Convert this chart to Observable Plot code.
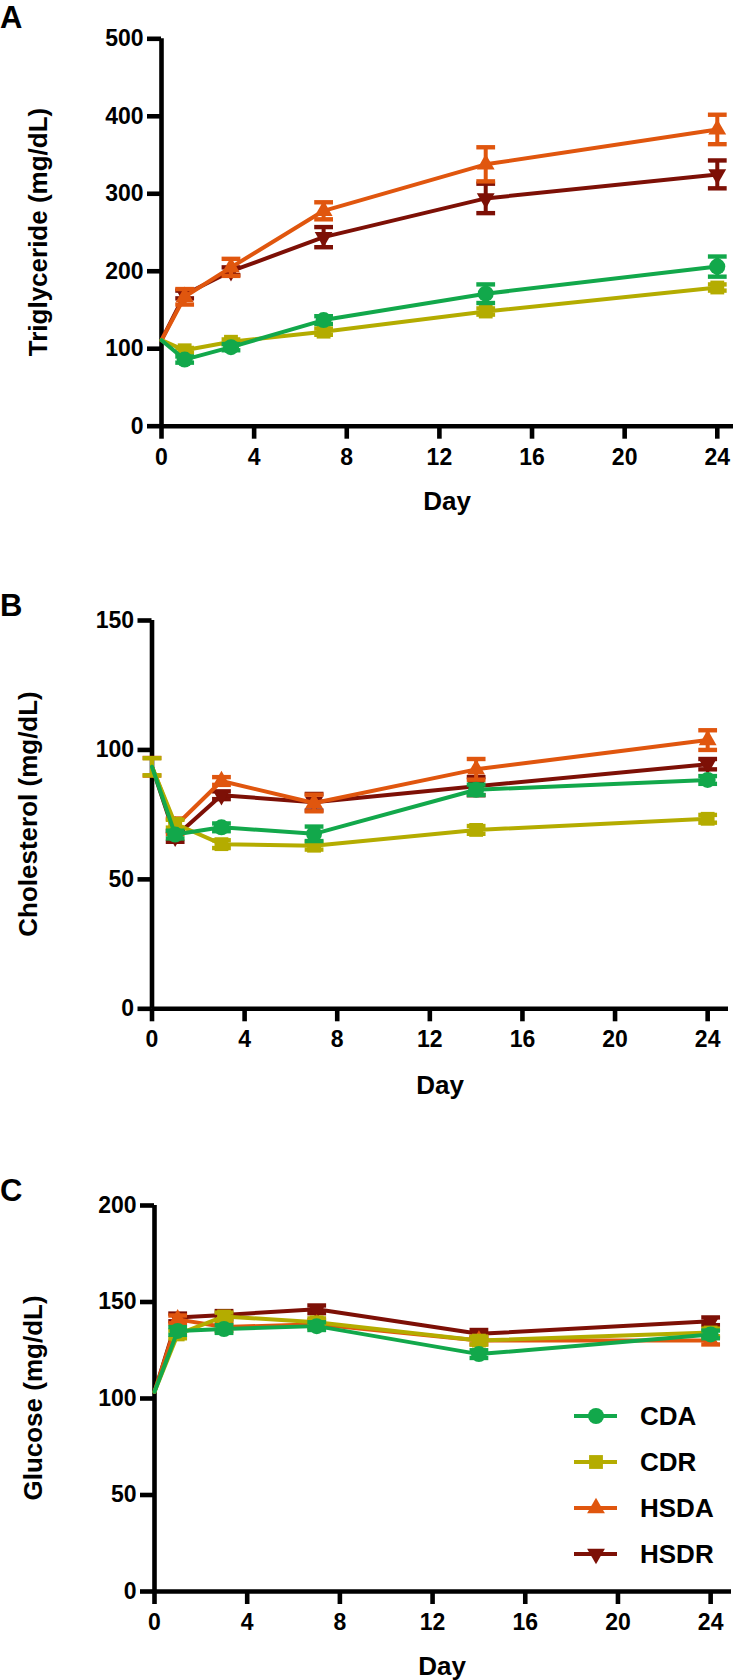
<!DOCTYPE html>
<html>
<head>
<meta charset="utf-8">
<script src="https://cdn.jsdelivr.net/npm/d3@7"></script>
<script src="https://cdn.jsdelivr.net/npm/@observablehq/plot@0.6"></script>
<style>
  body { margin: 0; background: #fff; }
  #root { position: relative; width: 741px; height: 1680px; overflow: hidden;
          font-family: "Liberation Sans", Arial, sans-serif; font-weight: bold; color: #000; }
  .panel { position: absolute; left: 0; }
  .letter { position: absolute; font-size: 31px; line-height: 1; }
  .xt { position: absolute; font-size: 26px; line-height: 1; transform: translateX(-50%); white-space: nowrap; }
  .yt { position: absolute; font-size: 26px; line-height: 1; transform: translate(-50%, -50%) rotate(-90deg); white-space: nowrap; }
</style>
</head>
<body>
<div id="root">
  <div class="letter" style="left:0px;top:2px">A</div>
  <div class="letter" style="left:0px;top:590px">B</div>
  <div class="letter" style="left:0px;top:1175px">C</div>
  <div id="pA" class="panel" style="top:0px"></div>
  <div id="pB" class="panel" style="top:560px"></div>
  <div id="pC" class="panel" style="top:1150px"></div>
  <div class="xt" style="left:447px;top:488px">Day</div>
  <div class="xt" style="left:440px;top:1072px">Day</div>
  <div class="xt" style="left:442px;top:1653px">Day</div>
  <div class="yt" style="left:38px;top:232px">Triglyceride (mg/dL)</div>
  <div class="yt" style="left:28px;top:814px">Cholesterol (mg/dL)</div>
  <div class="yt" style="left:33px;top:1398px">Glucose (mg/dL)</div>
  <div id="legend" style="position:absolute;left:560px;top:1390px"></div>
</div>
<script>
// ---------- data ----------
const days = [0, 1, 3, 7, 14, 24];
const xTicks = [0, 4, 8, 12, 16, 20, 24];
const seriesNames = ["CDA", "CDR", "HSDA", "HSDR"];
const seriesColors = ["#12a84b", "#b4ac00", "#e0560e", "#7d1006"];
const seriesSymbols = ["circle", "square", "triangle", "triangle"];
const seriesRotate = [0, 0, 0, 180];
const drawOrder = ["HSDR", "HSDA", "CDR", "CDA"];

// A: Triglyceride (mg/dL)
const trigTicks = [0, 100, 200, 300, 400, 500];
const trigCDA  = [111, 86, 102, 137, 171, 206];
const trigCDR  = [111, 98, 109, 122, 148, 179];
const trigHSDA = [111, 167, 205, 278, 338, 383];
const trigHSDR = [111, 170, 200, 244, 294, 325];
const trigErrCDA  = [0, 4, 4, 5, 12, 13];
const trigErrCDR  = [0, 3, 3, 4, 4, 4];
const trigErrHSDA = [0, 10, 11, 11, 22, 19];
const trigErrHSDR = [0, 5, 5, 13, 19, 18];

// B: Cholesterol (mg/dL)
const cholTicks = [0, 50, 100, 150];
const cholCDA  = [93.5, 67.3, 70.1, 67.6, 84.6, 88.4];
const cholCDR  = [93.5, 71.5, 63.6, 63.0, 69.1, 73.4];
const cholHSDA = [93.5, 70.5, 88.0, 79.5, 92.5, 103.8];
const cholHSDR = [93.5, 66.5, 82.5, 79.8, 86.0, 94.5];
const cholErrCDA  = [0, 1.5, 1.5, 2.8, 2.0, 1.5];
const cholErrCDR  = [3.3, 1.5, 1.5, 1.5, 1.5, 1.5];
const cholErrHSDA = [3.4, 3.0, 1.5, 3.2, 4.0, 3.8];
const cholErrHSDR = [0, 2.0, 1.5, 3.2, 3.5, 2.0];

// C: Glucose (mg/dL)
const glucTicks = [0, 50, 100, 150, 200];
const glucCDA  = [103.5, 135.0, 136.0, 137.5, 123.0, 133.2];
const glucCDR  = [103.5, 133.2, 142.5, 139.5, 130.0, 134.2];
const glucHSDA = [103.5, 141.0, 137.0, 138.5, 130.0, 130.0];
const glucHSDR = [103.5, 142.0, 143.3, 146.2, 133.5, 140.0];
const glucErrCDA  = [0, 2, 2, 2, 2, 2];
const glucErrCDR  = [0, 2, 2, 2, 2, 2];
const glucErrHSDA = [0, 2, 2, 2, 2, 2];
const glucErrHSDR = [0, 2, 2, 2, 2, 2];

// ---------- helpers ----------
const capSymbol = {
  draw(context, size) {
    const w = Math.sqrt(size);
    context.moveTo(-w, 0);
    context.lineTo(w, 0);
  }
};
const colorOf = (name) => seriesColors[seriesNames.indexOf(name)];
const symbolOf = (name) => seriesSymbols[seriesNames.indexOf(name)];
const rotateOf = (name) => seriesRotate[seriesNames.indexOf(name)];
const radiusOf = (name) => symbolOf(name) === "circle" ? 8 : symbolOf(name) === "square" ? 7.8 : 6.6;

function buildRows(means, errs) {
  const rows = [];
  seriesNames.forEach((name, s) => {
    days.forEach((day, i) => rows.push({series: name, day, mean: means[s][i], err: errs[s][i]}));
  });
  return rows;
}

const hasAxisMarks = typeof Plot.axisX === "function" && typeof Plot.axisY === "function";
const AX_W = 4.6;

function panel(el, cfg) {
  const rows = buildRows(cfg.means, cfg.errs);
  const marks = [];
  if (hasAxisMarks) {
    marks.push(
      Plot.axisY(cfg.yTicks, {tickSize: 14, tickPadding: 4, strokeWidth: AX_W, tickFormat: "d", label: null}),
      Plot.axisX(xTicks, {tickSize: 13, tickPadding: 9, strokeWidth: AX_W, tickFormat: "d", label: null})
    );
  }
  marks.push(
    Plot.ruleY([0], {stroke: "black", strokeWidth: AX_W}),
    Plot.ruleX([0], {stroke: "black", strokeWidth: AX_W})
  );
  for (const name of drawOrder) {
    const d = rows.filter(r => r.series === name);
    const e = d.filter(r => r.err > 0);
    const c = colorOf(name);
    marks.push(
      Plot.ruleX(e, {x: "day", y1: r => r.mean - r.err, y2: r => r.mean + r.err, stroke: c, strokeWidth: 4}),
      Plot.dot(e, {x: "day", y: r => r.mean + r.err, symbol: capSymbol, r: 5.3, stroke: c, strokeWidth: 4.4, fill: "none"}),
      Plot.dot(e, {x: "day", y: r => r.mean - r.err, symbol: capSymbol, r: 5.3, stroke: c, strokeWidth: 4.4, fill: "none"}),
      Plot.line(d, {x: "day", y: "mean", stroke: c, strokeWidth: 4, strokeLinejoin: "round"}),
      Plot.dot(d.filter(r => r.day > 0), {x: "day", y: "mean", symbol: symbolOf(name), r: radiusOf(name),
        fill: c, stroke: "none", rotate: rotateOf(name)})
    );
  }
  const chart = Plot.plot({
    width: 741,
    height: cfg.height,
    marginTop: cfg.marginTop,
    marginBottom: cfg.marginBottom,
    marginLeft: cfg.marginLeft,
    marginRight: cfg.marginRight,
    style: {fontFamily: "'Liberation Sans', Arial, sans-serif", fontSize: "23px", fontWeight: "bold", color: "black", background: "transparent", overflow: "visible"},
    x: {domain: cfg.xDomain, ticks: xTicks, tickSize: 13, tickPadding: 9, label: null, tickFormat: d3.format("d")},
    y: {domain: cfg.yDomain, ticks: cfg.yTicks, tickSize: 14, tickPadding: 4, label: null, tickFormat: d3.format("d")},
    marks
  });
  // make sure tick marks are as thick as the axis lines
  d3.select(chart).selectAll('[aria-label*="axis"]').each(function () {
    const g = d3.select(this);
    g.attr("stroke-width", AX_W).style("stroke-width", AX_W + "px");
    g.selectAll("path, line").attr("stroke-width", AX_W).style("stroke-width", AX_W + "px");
  });
  document.getElementById(el).appendChild(chart);
}

panel("pA", {
  height: 470, marginTop: 38.3, marginBottom: 44.3, marginLeft: 161, marginRight: 8,
  xDomain: [0, 24.7], yDomain: [0, 500], yTicks: trigTicks,
  means: [trigCDA, trigCDR, trigHSDA, trigHSDR],
  errs: [trigErrCDA, trigErrCDR, trigErrHSDA, trigErrHSDR]
});
panel("pB", {
  height: 500, marginTop: 60, marginBottom: 51.7, marginLeft: 151.5, marginRight: 13,
  xDomain: [0, 24.9], yDomain: [0, 150], yTicks: cholTicks,
  means: [cholCDA, cholCDR, cholHSDA, cholHSDR],
  errs: [cholErrCDA, cholErrCDR, cholErrHSDA, cholErrHSDR]
});
panel("pC", {
  height: 490, marginTop: 55, marginBottom: 49, marginLeft: 154, marginRight: 10,
  xDomain: [0, 24.9], yDomain: [0, 200], yTicks: glucTicks,
  means: [glucCDA, glucCDR, glucHSDA, glucHSDR],
  errs: [glucErrCDA, glucErrCDR, glucErrHSDA, glucErrHSDR]
});

// ---------- legend ----------
(function legend() {
  const rowGap = 46;
  const svg = d3.select("#legend").append("svg")
    .attr("width", 181).attr("height", 190)
    .style("overflow", "visible");
  const symMap = {circle: d3.symbolCircle, square: d3.symbolSquare, triangle: d3.symbolTriangle};
  seriesNames.forEach((name, i) => {
    const y = 26 + i * rowGap;
    const g = svg.append("g");
    g.append("line").attr("x1", 14).attr("x2", 57).attr("y1", y).attr("y2", y)
      .attr("stroke", seriesColors[i]).attr("stroke-width", 4);
    const r = radiusOf(name);
    g.append("path")
      .attr("d", d3.symbol(symMap[seriesSymbols[i]], r * r * Math.PI)())
      .attr("transform", `translate(36,${y}) rotate(${seriesRotate[i]})`)
      .attr("fill", seriesColors[i]);
    g.append("text").attr("x", 80).attr("y", y + 9.3)
      .attr("font-family", "'Liberation Sans', Arial, sans-serif")
      .attr("font-weight", "bold").attr("font-size", 26).attr("fill", "black")
      .text(name);
  });
})();
</script>
</body>
</html>
